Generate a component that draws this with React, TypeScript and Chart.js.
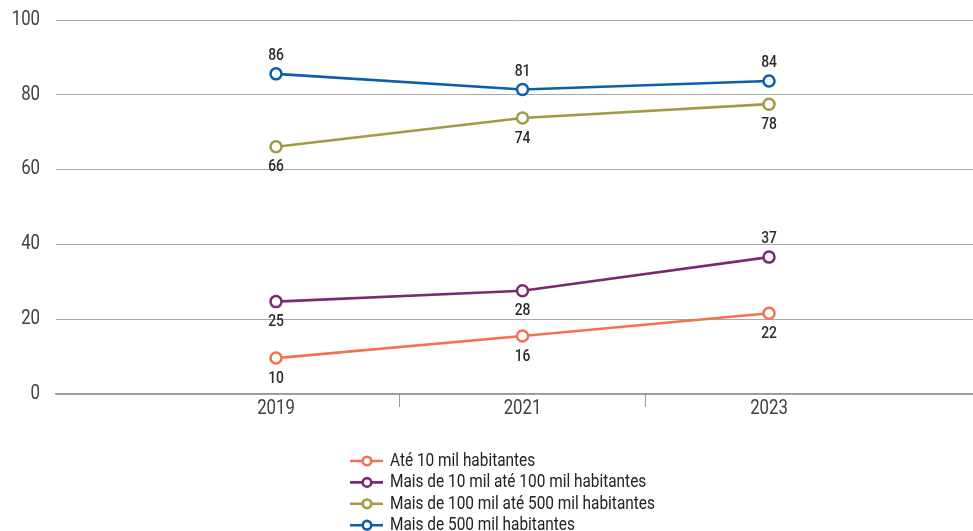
import React, { useEffect, useRef } from "react";
import { Chart, registerables } from "chart.js";
Chart.register(...registerables);

const years = [2019, 2021, 2023];
const seriesNames = [
  "Até 10 mil habitantes",
  "Mais de 10 mil até 100 mil habitantes",
  "Mais de 100 mil até 500 mil habitantes",
  "Mais de 500 mil habitantes",
];
const ate10 = [9.6, 15.5, 21.6];
const de10a100 = [24.7, 27.6, 36.6];
const de100a500 = [66.1, 73.8, 77.5];
const mais500 = [85.6, 81.4, 83.7];
const yTicks = [0, 20, 40, 60, 80, 100];

const colors = ["#F4714F", "#7B2A6F", "#A19B45", "#0B5EAB"];
const labelPos = [
  ["below", "below", "below"],
  ["below", "below", "above"],
  ["below", "below", "below"],
  ["above", "above", "above"],
];

const FONT = "Roboto, 'DejaVu Sans Condensed', sans-serif";

function drawText(
  ctx: CanvasRenderingContext2D,
  text: string,
  x: number,
  y: number,
  size: number,
  weight: string,
  color: string,
  align: "left" | "center" | "right",
  sx: number
) {
  ctx.save();
  ctx.font = `${weight} ${size}px ${FONT}`;
  ctx.fillStyle = color;
  ctx.textBaseline = "middle";
  ctx.textAlign = "left";
  const w = ctx.measureText(text).width * sx;
  const left = align === "center" ? x - w / 2 : align === "right" ? x - w : x;
  ctx.translate(left, y);
  ctx.scale(sx, 1);
  ctx.fillText(text, 0, 0);
  ctx.restore();
}

// plot-frame geometry (styling only)
const AREA = { left: 56, top: 20, right: 973, bottom: 394 };

export default function App() {
  const ref = useRef<HTMLCanvasElement>(null);
  useEffect(() => {
    const values = [ate10, de10a100, de100a500, mais500];
    const datasets = values.map((vals, i) => ({
      label: seriesNames[i],
      data: vals.map((v, j) => ({ x: years[j], y: v })),
      borderColor: colors[i],
      backgroundColor: "#ffffff",
      pointBackgroundColor: "#ffffff",
      pointBorderColor: colors[i],
      pointBorderWidth: 2.5,
      pointRadius: 5.5,
      borderWidth: 2.6,
      tension: 0,
    }));

    const fixLayout = {
      id: "fixLayout",
      afterLayout(chart: any) {
        const a = chart.chartArea;
        a.left = AREA.left;
        a.top = AREA.top;
        a.right = AREA.right;
        a.bottom = AREA.bottom;
        a.width = AREA.right - AREA.left;
        a.height = AREA.bottom - AREA.top;
        const x = chart.scales.x;
        x.left = AREA.left;
        x.right = AREA.right;
        x.width = AREA.right - AREA.left;
        x.top = AREA.bottom;
        x.bottom = chart.height;
        x.height = chart.height - AREA.bottom;
        x.configure();
        const y = chart.scales.y;
        y.top = AREA.top;
        y.bottom = AREA.bottom;
        y.height = AREA.bottom - AREA.top;
        y.left = 0;
        y.right = AREA.left;
        y.width = AREA.left;
        y.configure();
      },
    };

    const textPlugin = {
      id: "texts",
      afterDatasetsDraw(chart: any) {
        const ctx = chart.ctx;
        const xs = chart.scales.x;
        const ys = chart.scales.y;
        // axis labels
        yTicks.forEach((v) => {
          drawText(ctx, String(v), 40, ys.getPixelForValue(v), 19.5, "normal", "#404040", "right", 0.86);
        });
        years.forEach((yr) => {
          drawText(ctx, String(yr), xs.getPixelForValue(yr), 409.5, 19.5, "normal", "#404040", "center", 0.86);
        });
        // data labels
        chart.data.datasets.forEach((ds: any, i: number) => {
          const meta = chart.getDatasetMeta(i);
          meta.data.forEach((pt: any, j: number) => {
            const v = ds.data[j].y;
            const dy = labelPos[i][j] === "above" ? -18 : 20.5;
            drawText(ctx, String(Math.round(v)), pt.x, pt.y + dy, 16.5, "500", "#2a2a2a", "center", 0.84);
          });
        });
        // legend
        chart.data.datasets.forEach((ds: any, i: number) => {
          const y = 461 + i * 21.4;
          ctx.save();
          ctx.strokeStyle = ds.borderColor;
          ctx.lineWidth = 2.6;
          ctx.beginPath();
          ctx.moveTo(350, y);
          ctx.lineTo(383, y);
          ctx.stroke();
          ctx.beginPath();
          ctx.arc(367, y, 4.3, 0, Math.PI * 2);
          ctx.fillStyle = "#fff";
          ctx.fill();
          ctx.stroke();
          ctx.restore();
          drawText(ctx, ds.label, 390, y + 0.5, 17.5, "normal", "#222", "left", 0.88);
        });
      },
    };

    const chart = new Chart(ref.current!, {
      type: "line",
      data: { datasets },
      options: {
        animation: false,
        responsive: false,
        maintainAspectRatio: false,
        plugins: { legend: { display: false }, tooltip: { enabled: false } },
        scales: {
          x: {
            type: "linear",
            min: 2017.215,
            max: 2024.655,
            afterBuildTicks(scale: any) {
              scale.ticks = [2019, 2020, 2021, 2022, 2023].map((v) => ({ value: v }));
            },
            ticks: { display: false },
            grid: {
              drawOnChartArea: false,
              drawTicks: true,
              tickLength: 13,
              lineWidth: 1,
              color: (c: any) =>
                c.tick && years.includes(c.tick.value) ? "rgba(0,0,0,0)" : "#9a9a9a",
            },
            border: { display: true, color: "#9a9a9a", width: 1.4 },
          },
          y: {
            min: 0,
            max: 100,
            afterBuildTicks(scale: any) {
              scale.ticks = yTicks.map((v) => ({ value: v }));
            },
            ticks: { display: false },
            grid: { color: "#a8a8a8", lineWidth: 1, drawTicks: false },
            border: { display: false },
          },
        },
      },
      plugins: [fixLayout, textPlugin],
    });
    return () => chart.destroy();
  }, []);
  return (
    <div style={{ position: "fixed", left: 0, top: 0, width: 973, height: 531, background: "#fff" }}>
      <canvas ref={ref} width={973} height={531} style={{ width: 973, height: 531 }} />
    </div>
  );
}
